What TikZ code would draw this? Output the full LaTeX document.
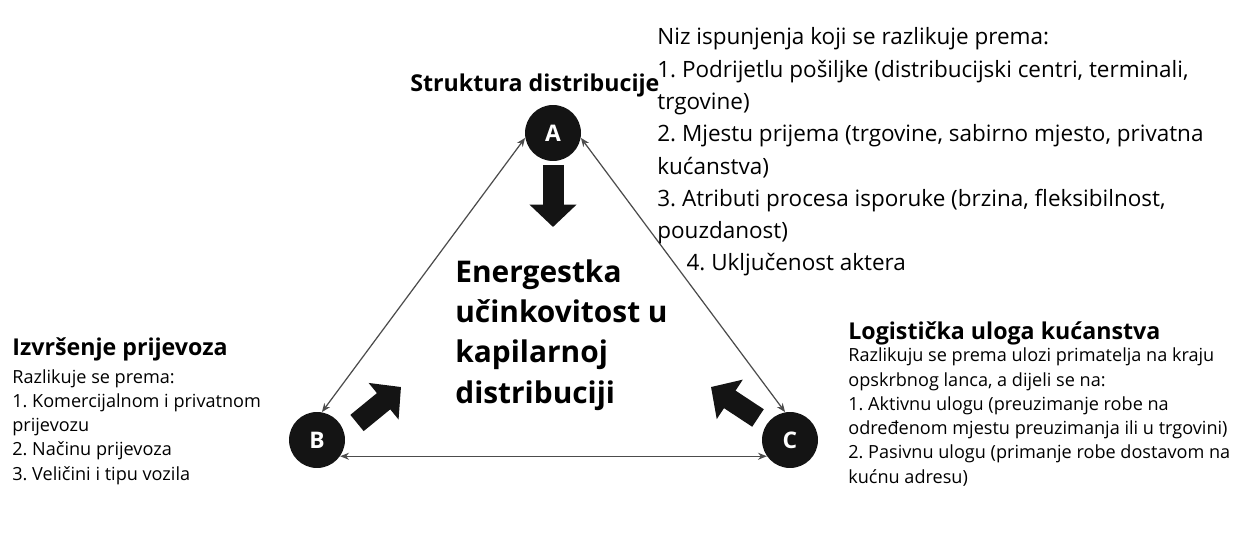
\documentclass[tikz,border=0pt]{standalone}
\usepackage{fontspec}
\setmainfont{Open Sans}
\usepackage{tikz}
\usetikzlibrary{arrows.meta,positioning}
\frenchspacing

\tikzset{
    corner/.style={circle,fill=black!92,text=white,inner sep=0pt,minimum size=1.12cm,font=\bfseries\fontsize{13}{13}\selectfont},
    edge/.style={{Stealth[length=5pt,width=4pt]}-{Stealth[length=5pt,width=4pt]},draw=black!70,line width=0.7pt},
    blockarrow/.style={draw=black!92,line width=0.42cm,-{Triangle[width=0.92cm,length=0.45cm]}},
    heading/.style={anchor=base west,inner sep=0pt,align=left,font=\bfseries\fontsize{13.2}{15}\selectfont},
    smalltext/.style={anchor=base west,inner sep=0pt,align=left,font=\fontsize{10.3}{13.8}\selectfont},
    listtext/.style={anchor=base west,inner sep=0pt,align=left,font=\fontsize{12.8}{18.4}\selectfont}
}

\begin{document}
\begin{tikzpicture}[x=0.02cm,y=-0.02cm]
    \useasboundingbox (0,0) rectangle (1254,533);

        % triangle corners
        \node[corner] (A) at (553,133) {A};
        \node[corner] (B) at (317,440) {B};
        \node[corner] (C) at (790,440) {C};

        \draw[edge] (A.190) -- (B.80);
        \draw[edge] (A.-10) -- (C.100);
        \draw[edge] (B.-35) -- (C.-145);

        % arrows into the middle
        \coordinate (a1) at (553,165);
        \coordinate (a2) at (553,227);
        \coordinate (b1) at (357,423);
        \coordinate (b2) at (401,387);
        \coordinate (c1) at (758,418);
        \coordinate (c2) at (711,387);
        \draw[blockarrow] (a1) -- (a2);
        \draw[blockarrow] (b1) -- (b2);
        \draw[blockarrow] (c1) -- (c2);

        % anchors sit on the last line of each text
        \node[anchor=base west,inner sep=0pt,align=left,font=\bfseries\fontsize{17}{22.8}\selectfont] (mid) at (455,403)
            {Energestka\\u\v{c}inkovitost u\\kapilarnoj\\distribuciji};

        % labels
        \node[heading] (ahead) at (410,92) {Struktura distribucije};
        \node[listtext] (alist) at (657,271)
            {Niz ispunjenja koji se razlikuje prema:\\
             1. Podrijetlu po\v{s}iljke (distribucijski centri, terminali,\\
             trgovine)\\
             2. Mjestu prijema (trgovine, sabirno mjesto, privatna\\
             ku\'{c}anstva)\\
             3. Atributi procesa isporuke (brzina, fleksibilnost,\\
             pouzdanost)\\
             \hspace*{1.3em}4. Uklju\v{c}enost aktera};

        \node[heading] (bhead) at (12,356) {Izvr\v{s}enje prijevoza};
        \node[smalltext] (blist) at (12,480)
            {Razlikuje se prema:\\
             1. Komercijalnom i privatnom\\
             prijevozu\\
             2. Na\v{c}inu prijevoza\\
             3. Veli\v{c}ini i tipu vozila};

        \node[heading] (chead) at (848,340) {Logisti\v{c}ka uloga ku\'{c}anstva};
        \node[smalltext] (clist) at (848,483)
            {Razlikuju se prema ulozi primatelja na kraju\\
             opskrbnog lanca, a dijeli se na:\\
             1. Aktivnu ulogu (preuzimanje robe na\\
             odre\dj enom mjestu preuzimanja ili u trgovini)\\
             2. Pasivnu ulogu (primanje robe dostavom na\\
             ku\'{c}nu adresu)};

\end{tikzpicture}
\end{document}
